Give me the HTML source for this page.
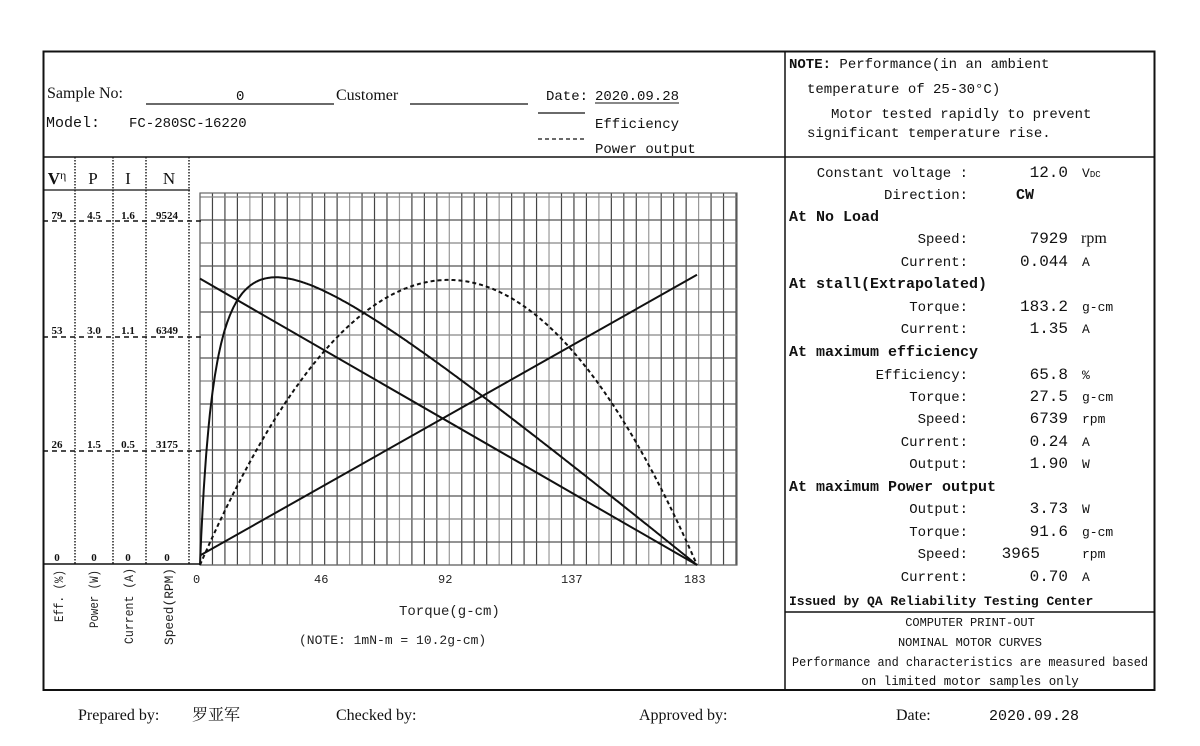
<!DOCTYPE html>
<html><head><meta charset="utf-8"><style>
html,body{margin:0;padding:0;background:#fff;}
svg{display:block;}
.m{font-family:"Liberation Mono","Noto Sans CJK SC",monospace;}
.s{font-family:"Liberation Serif","Noto Serif CJK SC",serif;}
</style></head><body>
<svg id="c" width="1200" height="746" viewBox="0 0 1200 746" xmlns="http://www.w3.org/2000/svg">
<rect width="1200" height="746" fill="#fff"/>
<g id="grid" stroke="#555" stroke-width="1.2"></g>
<rect x="200" y="193" width="537" height="372" fill="none" stroke="#666" stroke-width="1.2"/>
<g stroke="#111" fill="none">
<rect x="43.5" y="51.5" width="1111" height="638.5" stroke-width="2"/>
<line x1="785" y1="51" x2="785" y2="690" stroke-width="1.5"/>
<line x1="43" y1="157" x2="1155" y2="157" stroke-width="1.5"/>
<line x1="785" y1="612" x2="1155" y2="612" stroke-width="1.5"/>
<line x1="43" y1="190" x2="190" y2="190" stroke-width="1.2"/>
<line x1="43" y1="564" x2="200" y2="564" stroke-width="1.5"/>
<line x1="146" y1="104" x2="334" y2="104" stroke-width="1.2"/>
<line x1="410" y1="104" x2="528" y2="104" stroke-width="1.2"/>
<line x1="538" y1="113" x2="585" y2="113" stroke-width="1.2"/>
<line x1="538" y1="139" x2="585" y2="139" stroke-width="1.2" stroke-dasharray="4,3"/>
<line x1="595" y1="103" x2="679" y2="103" stroke-width="1"/>
</g>
<g stroke="#222" stroke-width="1.5" stroke-dasharray="1.5,1.5">
<line x1="75" y1="157" x2="75" y2="564"/>
<line x1="113" y1="157" x2="113" y2="564"/>
<line x1="146" y1="157" x2="146" y2="564"/>
<line x1="189" y1="157" x2="189" y2="564"/>
</g>
<g stroke="#111" stroke-width="1.5" stroke-dasharray="5,4">
<line x1="43" y1="221" x2="205" y2="221"/>
<line x1="43" y1="337" x2="205" y2="337"/>
<line x1="43" y1="451" x2="205" y2="451"/>
</g>
<g class="s" font-size="11" font-weight="bold" text-anchor="middle" fill="#111">
<text x="57" y="219">79</text><text x="94" y="219">4.5</text><text x="128" y="219">1.6</text><text x="167" y="219">9524</text>
<text x="57" y="334">53</text><text x="94" y="334">3.0</text><text x="128" y="334">1.1</text><text x="167" y="334">6349</text>
<text x="57" y="448">26</text><text x="94" y="448">1.5</text><text x="128" y="448">0.5</text><text x="167" y="448">3175</text>
<text x="57" y="561">0</text><text x="94" y="561">0</text><text x="128" y="561">0</text><text x="167" y="561">0</text>
</g>
<g class="s" font-size="17" text-anchor="middle" fill="#111">
<text x="57" y="184" font-weight="bold">V<tspan font-size="12" dy="-5" font-weight="normal">η</tspan></text>
<text x="93" y="184">P</text><text x="128" y="184">I</text><text x="169" y="184">N</text>
</g>
<g class="m" font-size="13" fill="#222">
<text transform="translate(63,622) rotate(-90)" textLength="52" lengthAdjust="spacingAndGlyphs">Eff. (%)</text>
<text transform="translate(98,628) rotate(-90)" textLength="58" lengthAdjust="spacingAndGlyphs">Power (W)</text>
<text transform="translate(133,644) rotate(-90)" textLength="76" lengthAdjust="spacingAndGlyphs">Current (A)</text>
<text transform="translate(173,645) rotate(-90)" textLength="77" lengthAdjust="spacingAndGlyphs">Speed(RPM)</text>
<text x="193" y="583" font-size="12">0</text>
<text x="314" y="583" font-size="12">46</text>
<text x="438" y="583" font-size="12">92</text>
<text x="561" y="583" font-size="12">137</text>
<text x="684" y="583" font-size="12">183</text>
<text x="399" y="615" font-size="14">Torque(g-cm)</text>
<text x="299" y="644" font-size="13">(NOTE: 1mN-m = 10.2g-cm)</text>
</g>
<g id="curves" fill="none" stroke="#111" stroke-width="2"></g>
<g fill="#111">
<text class="s" x="47" y="98" font-size="16">Sample No:</text>
<text class="m" x="236" y="100" font-size="14">0</text>
<text class="s" x="336" y="100" font-size="16">Customer</text>
<text class="m" x="46" y="127" font-size="15">Model:</text>
<text class="m" x="129" y="127" font-size="14">FC-280SC-16220</text>
<text class="m" x="546" y="100" font-size="14">Date:</text>
<text class="m" x="595" y="100" font-size="14">2020.09.28</text>
<text class="m" x="595" y="128" font-size="14">Efficiency</text>
<text class="m" x="595" y="153" font-size="14">Power output</text>
<text class="m" x="789" y="68" font-size="14"><tspan font-weight="bold">NOTE:</tspan>  Performance(in an ambient</text>
<text class="m" x="807" y="93" font-size="14">temperature of 25-30°C)</text>
<text class="m" x="831" y="118" font-size="14">Motor tested rapidly to prevent</text>
<text class="m" x="807" y="137" font-size="14">significant temperature rise.</text>
</g>
<g class="m" font-size="14" fill="#111">
<g text-anchor="end">
<text x="968" y="177">Constant voltage :</text>
<text x="968" y="199">Direction:</text>
<text x="968" y="243">Speed:</text>
<text x="968" y="266">Current:</text>
<text x="968" y="311">Torque:</text>
<text x="968" y="333">Current:</text>
<text x="968" y="379">Efficiency:</text>
<text x="968" y="401">Torque:</text>
<text x="968" y="423">Speed:</text>
<text x="968" y="446">Current:</text>
<text x="968" y="468">Output:</text>
<text x="968" y="513">Output:</text>
<text x="968" y="536">Torque:</text>
<text x="968" y="558">Speed:</text>
<text x="968" y="581">Current:</text>
</g>
<g text-anchor="end" font-size="16">
<text x="1068" y="177">12.0</text>
<text x="1068" y="243">7929</text>
<text x="1068" y="266">0.044</text>
<text x="1068" y="311">183.2</text>
<text x="1068" y="333">1.35</text>
<text x="1068" y="379">65.8</text>
<text x="1068" y="401">27.5</text>
<text x="1068" y="423">6739</text>
<text x="1068" y="446">0.24</text>
<text x="1068" y="468">1.90</text>
<text x="1068" y="513">3.73</text>
<text x="1068" y="536">91.6</text>
<text x="1040" y="558">3965</text>
<text x="1068" y="581">0.70</text>
</g>
<text x="1016" y="199" font-weight="bold" font-size="15">CW</text>
<g font-size="13">
<text x="1082" y="177">V<tspan font-size="9">DC</tspan></text>
<text x="1081" y="243" class="s" font-size="16">rpm</text>
<text x="1082" y="266">A</text><text x="1082" y="311">g-cm</text><text x="1082" y="333">A</text>
<text x="1082" y="379">%</text><text x="1082" y="401">g-cm</text><text x="1082" y="423">rpm</text>
<text x="1082" y="446">A</text><text x="1082" y="468">W</text><text x="1082" y="513">W</text>
<text x="1082" y="536">g-cm</text><text x="1082" y="558">rpm</text><text x="1082" y="581">A</text>
</g>
<g font-weight="bold" font-size="15">
<text x="789" y="221">At No Load</text>
<text x="789" y="288">At stall(Extrapolated)</text>
<text x="789" y="356">At maximum efficiency</text>
<text x="789" y="491">At maximum Power output</text>
</g>
<text x="789" y="605" font-weight="bold" font-size="13">Issued by QA Reliability Testing Center</text>
<g text-anchor="middle" font-size="12">
<text x="970" y="626">COMPUTER PRINT-OUT</text>
<text x="970" y="646">NOMINAL MOTOR CURVES</text>
<text x="970" y="666" font-size="12.5" textLength="356" lengthAdjust="spacingAndGlyphs">Performance and characteristics are measured based</text>
<text x="970" y="685" font-size="12.5">on limited motor samples only</text>
</g>
</g>
<g class="s" font-size="16" fill="#111">
<text x="78" y="720">Prepared by:</text>
<text x="192" y="720" font-family="'Noto Serif CJK SC',serif">罗亚军</text>
<text x="336" y="720">Checked by:</text>
<text x="639" y="720">Approved by:</text>
<text x="896" y="720">Date:</text>
<text x="989" y="720" class="m" font-size="15">2020.09.28</text>
</g>
</svg>
<script>
(function(){
var ns="http://www.w3.org/2000/svg";
var g=document.getElementById("grid");
function L(x1,y1,x2,y2,p,sw,col){var l=document.createElementNS(ns,"line");l.setAttribute("x1",x1);l.setAttribute("y1",y1);l.setAttribute("x2",x2);l.setAttribute("y2",y2);if(sw)l.setAttribute("stroke-width",sw);if(col)l.setAttribute("stroke",col);p.appendChild(l);}
for(var i=0;i<=43;i++){var x=200+i*536/43;L(x,193,x,565,g,1.2,(i%4==0)?"#999":"#444");}
for(var j=0;j<=16;j++){var y=565-j*23;L(200,y,737,y,g,1.2,(j%2==0)?"#888":"#555");}
var c=document.getElementById("curves");
var X0=200,XS=(697-200)/183.2,Y0=565;
function px(t){return X0+t*XS;}
function path(d,dash){var p=document.createElementNS(ns,"path");p.setAttribute("d",d);if(dash)p.setAttribute("stroke-dasharray","4,3");c.appendChild(p);}
var T=183.2,N0=7929,I0=0.044,Is=1.35;
var de="",dp="";
for(var k=0;k<=400;k++){var t=T*k/400;var N=N0*(1-t/T);var I=I0+(Is-I0)*t/T;var P=t*9.80665e-5*N*2*Math.PI/60;var e=P/(12*I)*100;
var ye=Y0-e*(344/79),yp=Y0-P*(344/4.5);
de+=(k?"L":"M")+px(t).toFixed(1)+" "+ye.toFixed(1);dp+=(k?"L":"M")+px(t).toFixed(1)+" "+yp.toFixed(1);}
path(de);path(dp,true);
path("M"+px(0)+" "+(Y0-N0*344/9524)+"L"+px(T)+" "+Y0);
path("M"+px(0)+" "+(Y0-I0*344/1.6)+"L"+px(T)+" "+(Y0-Is*344/1.6));
})();
</script>
</body></html>
